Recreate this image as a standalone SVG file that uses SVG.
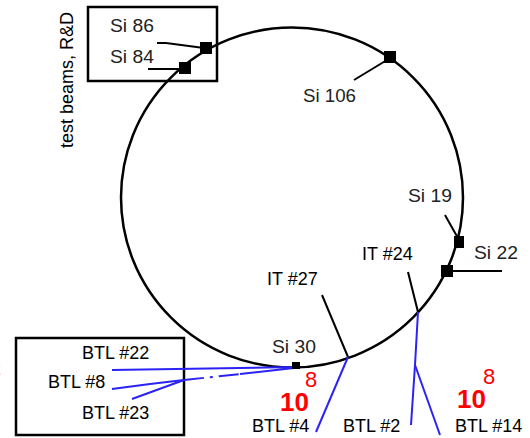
<svg xmlns="http://www.w3.org/2000/svg" width="530" height="438" viewBox="0 0 530 438">
<style>
.ring{fill:none;stroke:#000;stroke-width:2.5}
.box{fill:none;stroke:#000;stroke-width:2.5}
.lead{fill:none;stroke:#000;stroke-width:2}
.beam{fill:none;stroke:#2b22f5;stroke-width:2}
.mk{fill:#000}
.si{font-family:"Liberation Sans",Arial,sans-serif;font-size:19px;fill:#222}
.lbl{font-family:"Liberation Sans",Arial,sans-serif;font-size:18px;fill:#000}
.red{font-family:"Liberation Sans",Arial,sans-serif;fill:#f00}
</style>
<rect width="530" height="438" fill="#fff"/>
<g id="ring"><ellipse class="ring" cx="292" cy="197.5" rx="171" ry="170"/></g>
<g id="boxes">
<rect class="box" x="88" y="7" width="129" height="74"/>
<rect class="box" x="16" y="338" width="168" height="97"/>
</g>
<g id="connectors">
<polyline class="lead" points="157,43 166,43 204,48"/>
<line class="lead" x1="148" y1="69" x2="180" y2="69"/>
<line class="lead" x1="387" y1="60" x2="354" y2="80"/>
<line class="lead" x1="445" y1="215" x2="459" y2="240"/>
<line class="lead" x1="450" y1="271" x2="502" y2="271"/>
<line class="lead" x1="408" y1="272" x2="418" y2="312"/>
<line class="lead" x1="322" y1="295" x2="348" y2="357"/>
<line class="beam" x1="112" y1="370" x2="294" y2="367"/>
<polyline class="beam" points="112,389 150,384 184,380"/>
<line class="beam" x1="184" y1="380" x2="240" y2="374" stroke-dasharray="20,6,3,6"/>
<line class="beam" x1="240" y1="374" x2="294" y2="368" stroke-width="3"/>
<line class="beam" x1="132" y1="399" x2="184" y2="380"/>
<line class="beam" x1="348" y1="357" x2="316" y2="432"/>
<polyline class="beam" points="418,312 415,365 411,425"/>
<line class="beam" x1="415" y1="365" x2="440" y2="435"/>
</g>
<g id="si86"><rect class="mk" x="200" y="42" width="12" height="12"/><text class="si" x="110" y="32" textLength="44" lengthAdjust="spacingAndGlyphs">Si 86</text></g>
<g id="si84"><rect class="mk" x="179" y="62" width="12" height="12"/><text class="si" x="110" y="63" textLength="44" lengthAdjust="spacingAndGlyphs">Si 84</text></g>
<g id="si106"><rect class="mk" x="384" y="51" width="12" height="12"/><text class="si" x="303" y="102" textLength="53" lengthAdjust="spacingAndGlyphs">Si 106</text></g>
<g id="si19"><rect class="mk" x="454" y="236" width="10" height="12"/><text class="si" x="408" y="202" textLength="44" lengthAdjust="spacingAndGlyphs">Si 19</text></g>
<g id="si22"><rect class="mk" x="441" y="265" width="12" height="12"/><text class="si" x="474" y="259" textLength="44" lengthAdjust="spacingAndGlyphs">Si 22</text></g>
<g id="si30"><rect class="mk" x="292" y="362" width="8" height="7"/><text class="si" x="272" y="353" textLength="44" lengthAdjust="spacingAndGlyphs">Si 30</text></g>
<g id="it24"><text class="lbl" x="362" y="260">IT #24</text></g>
<g id="it27"><text class="lbl" x="267" y="285">IT #27</text></g>
<g id="btl22"><text class="lbl" x="82" y="359">BTL #22</text></g>
<g id="btl8"><text class="lbl" x="48" y="388">BTL #8</text></g>
<g id="btl23"><text class="lbl" x="82" y="419">BTL #23</text></g>
<g id="btl4"><text class="lbl" x="252" y="432">BTL #4</text></g>
<g id="btl2"><text class="lbl" x="343" y="432">BTL #2</text></g>
<g id="btl14"><text class="lbl" x="455" y="432">BTL #14</text></g>
<g id="rate1"><text class="red" x="280" y="411" font-size="26" font-weight="bold">10</text><text class="red" x="305" y="387" font-size="22">8</text></g>
<g id="rate2"><text class="red" x="457" y="408" font-size="26" font-weight="bold">10</text><text class="red" x="483" y="384" font-size="22">8</text></g>
<g id="rate3"><text class="red" x="-9" y="375" font-size="18">2</text></g>
<g id="side"><text class="lbl" transform="translate(73,148) rotate(-90)" font-size="18">test beams,  R&amp;D</text></g>
</svg>
